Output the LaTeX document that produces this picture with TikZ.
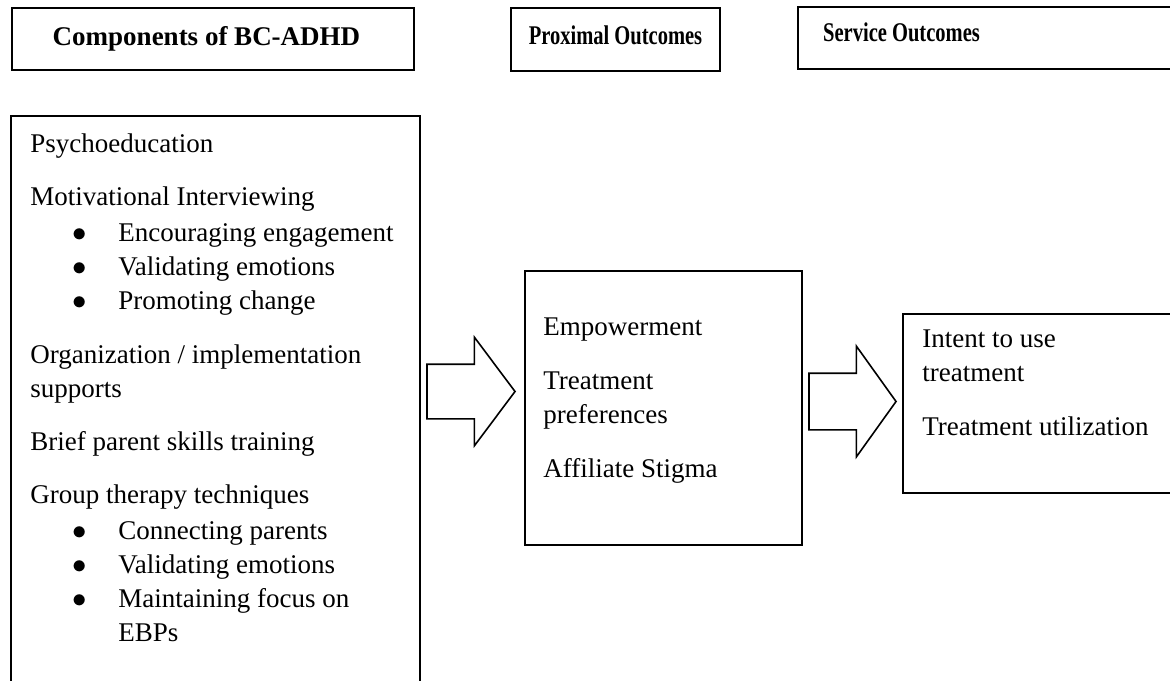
\documentclass[tikz,border=0pt]{standalone}
\usepackage{fontspec}
\setmainfont{Liberation Serif}
\usepackage{graphicx}
\usepackage{tikz}
\usetikzlibrary{shapes.arrows}
\newcommand{\bitem}[1]{\hspace*{21pt}\makebox[23pt][l]{$\bullet$}#1}
\newcommand{\narrow}[1]{\scalebox{0.76}[1]{#1}}

\begin{document}
\begin{tikzpicture}[x=0.5pt,y=-0.5pt,
	box/.style={draw,line width=0.8pt,rectangle,inner sep=0pt},
	hdrtxt/.style={font=\fontsize{13.5}{17}\selectfont\bfseries,inner sep=0pt,anchor=base},
	txt/.style={font=\fontsize{13.5}{17}\selectfont,inner sep=0pt,align=left,anchor=north west},
	blockarrow/.style={single arrow,draw,line width=0.8pt,inner xsep=0pt,minimum width=0pt,single arrow head indent=0pt,anchor=tip}]
	\clip (0,0) rectangle (1170,680);

	\node[box,minimum width=201pt,minimum height=31pt](hdrComp) at (213,39){};
	\node[box,minimum width=104.5pt,minimum height=31.5pt](hdrProx) at (615.5,39.5){};
	\node[box,minimum width=200pt,minimum height=31pt,anchor=north west](hdrServ) at (797,6){};
	\node[hdrtxt](hdrCompT) at (206.5,45){Components of BC-ADHD};
	\node[hdrtxt](hdrProxT) at (615.5,44){\narrow{Proximal Outcomes}};
	\node[hdrtxt](hdrServT) at (901.5,41){\narrow{Service Outcomes}};

	\node[box,minimum width=204.5pt,minimum height=300pt,anchor=north west](comp) at (10,115){};
	\node[box,minimum width=138.5pt,minimum height=137pt,anchor=north west](prox) at (524,270){};
	\node[box,minimum width=150pt,minimum height=89.5pt,anchor=north west](serv) at (902,313){};

	\node[txt](compT) at (30,133.5){Psychoeducation\\[9.5pt]
		Motivational Interviewing\\[1pt]
		\bitem{Encouraging engagement}\\
		\bitem{Validating emotions}\\
		\bitem{Promoting change}\\[10pt]
		Organization / implementation\\
		supports\\[9.5pt]
		Brief parent skills training\\[9.5pt]
		Group therapy techniques\\[1pt]
		\bitem{Connecting parents}\\
		\bitem{Validating emotions}\\
		\bitem{Maintaining focus on}\\
		\hspace*{44pt}EBPs};
	\node[txt](proxT) at (543,317.5){Empowerment\\[10pt]
		Treatment\\
		preferences\\[10pt]
		Affiliate Stigma};
	\node[txt](servT) at (922,329.5){Intent to use\\
		treatment\\[10pt]
		Treatment utilization};

	\node[blockarrow,minimum height=44pt,inner ysep=13.25pt,single arrow head extend=13.5pt,single arrow tip angle=106.4](arrA) at (516,391.5){};
	\node[blockarrow,minimum height=43.5pt,inner ysep=13.75pt,single arrow head extend=13.5pt,single arrow tip angle=108.8](arrB) at (897,401.5){};
\end{tikzpicture}
\end{document}
